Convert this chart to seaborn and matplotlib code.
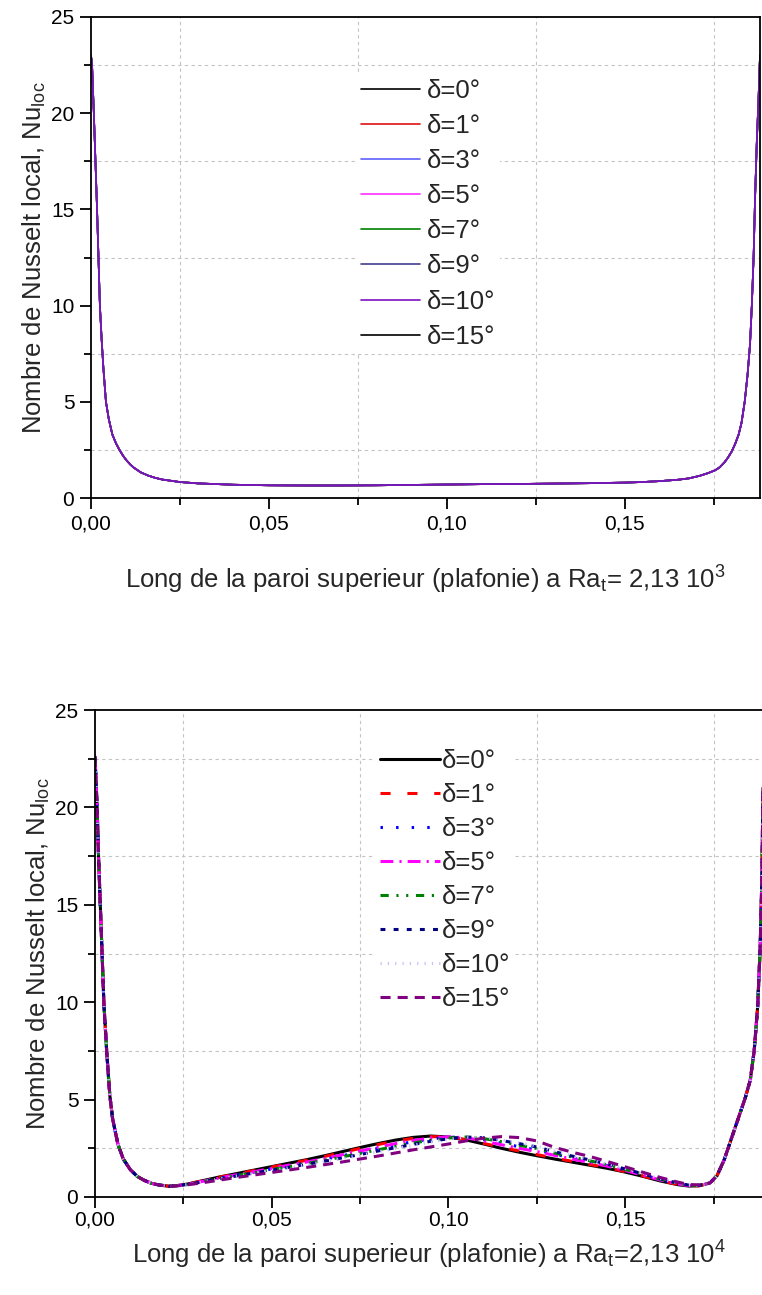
import numpy as np
import pandas as pd
import matplotlib
matplotlib.use("Agg")
import matplotlib.pyplot as plt
from matplotlib.ticker import MultipleLocator, FuncFormatter
import seaborn as sns

# ---------------- data ----------------
deltas = ["δ=0°", "δ=1°", "δ=3°", "δ=5°", "δ=7°", "δ=9°", "δ=10°", "δ=15°"]

# Ra = 2.13e3 : all inclinations coincide
x_top = [0, 0.0003, 0.0008, 0.0017, 0.0025, 0.003, 0.0035, 0.0042, 0.005, 0.006,
         0.007, 0.008, 0.009, 0.010, 0.011, 0.012, 0.014, 0.016, 0.018, 0.020,
         0.025, 0.030, 0.040, 0.050, 0.060, 0.070, 0.080, 0.090, 0.100, 0.110,
         0.120, 0.130, 0.140, 0.150, 0.155, 0.160, 0.165, 0.168, 0.171, 0.1735,
         0.1755, 0.1767, 0.178, 0.179, 0.180, 0.181, 0.182, 0.1828, 0.1837, 0.1845,
         0.1852, 0.1857, 0.1862, 0.1866, 0.1871, 0.1876, 0.188]
nu_top = [23.0, 22.5, 20, 15, 10, 8.2, 6.7, 5.0, 4.1, 3.3,
          2.85, 2.5, 2.2, 1.95, 1.75, 1.58, 1.33, 1.17, 1.05, 0.96,
          0.83, 0.76, 0.69, 0.66, 0.65, 0.65, 0.66, 0.68, 0.70, 0.72,
          0.73, 0.75, 0.77, 0.80, 0.83, 0.88, 0.95, 1.02, 1.15, 1.30,
          1.45, 1.60, 1.85, 2.1, 2.4, 2.8, 3.3, 3.9, 5.0, 6.4,
          8.0, 10, 12.5, 15.5, 18.5, 20.8, 23]

# Ra = 2.13e4
x_bot = [0, 0.0006, 0.001, 0.0017, 0.0025, 0.0033, 0.0042, 0.005, 0.0065, 0.008,
         0.010, 0.012, 0.014, 0.016, 0.018, 0.021,
         0.023, 0.026, 0.030, 0.035, 0.040, 0.045, 0.050, 0.055, 0.060, 0.065,
         0.070, 0.075, 0.080, 0.085, 0.090, 0.095, 0.100, 0.105, 0.110, 0.115,
         0.120, 0.125, 0.130, 0.135, 0.140, 0.145, 0.150, 0.155, 0.160, 0.165,
         0.168, 0.171,
         0.174, 0.176, 0.178, 0.1795, 0.181, 0.1825, 0.184, 0.1854, 0.1865, 0.1875,
         0.1882, 0.1887, 0.189]
left_branch = [22.6, 20, 17.5, 14, 10, 7.5, 5.2, 4.0, 2.7, 1.95,
               1.4, 1.05, 0.85, 0.70, 0.62, 0.55]
right_branch = [0.72, 1.1, 1.9, 2.7, 3.5, 4.3, 5.1, 6.0, 7.5, 9.8,
                12.8, 16.5, 21]
nu_bot_d0 = left_branch + [0.58, 0.66, 0.82, 1.02, 1.20, 1.38, 1.56, 1.74, 1.92, 2.12,
                           2.33, 2.54, 2.74, 2.92, 3.06, 3.13, 3.08, 2.93, 2.72, 2.50,
                           2.30, 2.12, 1.95, 1.79, 1.63, 1.47, 1.28, 1.06, 0.82, 0.63,
                           0.56, 0.58] + right_branch
nu_bot_d1 = left_branch + [0.58, 0.66, 0.81, 1.01, 1.18, 1.36, 1.54, 1.71, 1.89, 2.08,
                           2.29, 2.49, 2.69, 2.87, 3.01, 3.10, 3.08, 2.95, 2.75, 2.55,
                           2.36, 2.18, 2.00, 1.83, 1.67, 1.50, 1.30, 1.08, 0.83, 0.64,
                           0.57, 0.58] + right_branch
nu_bot_d3 = left_branch + [0.58, 0.64, 0.78, 0.96, 1.12, 1.28, 1.44, 1.60, 1.76, 1.94,
                           2.12, 2.30, 2.49, 2.67, 2.84, 2.98, 3.07, 3.07, 2.94, 2.76,
                           2.58, 2.41, 2.20, 2.00, 1.81, 1.61, 1.39, 1.14, 0.89, 0.68,
                           0.59, 0.59] + right_branch
nu_bot_d5 = left_branch + [0.58, 0.65, 0.79, 0.97, 1.14, 1.30, 1.47, 1.64, 1.80, 1.98,
                           2.17, 2.36, 2.55, 2.74, 2.90, 3.03, 3.09, 3.04, 2.88, 2.68,
                           2.50, 2.33, 2.14, 1.95, 1.77, 1.58, 1.36, 1.12, 0.87, 0.67,
                           0.58, 0.59] + right_branch
nu_bot_d7 = left_branch + [0.58, 0.64, 0.77, 0.94, 1.10, 1.25, 1.41, 1.56, 1.72, 1.89,
                           2.06, 2.24, 2.42, 2.60, 2.77, 2.92, 3.03, 3.08, 3.00, 2.84,
                           2.66, 2.49, 2.26, 2.05, 1.86, 1.65, 1.42, 1.17, 0.91, 0.70,
                           0.60, 0.60] + right_branch
nu_bot_d9 = left_branch + [0.58, 0.64, 0.76, 0.92, 1.08, 1.23, 1.38, 1.53, 1.68, 1.84,
                           2.01, 2.18, 2.36, 2.53, 2.70, 2.86, 2.99, 3.08, 3.04, 2.90,
                           2.74, 2.57, 2.33, 2.10, 1.90, 1.68, 1.44, 1.19, 0.93, 0.71,
                           0.61, 0.60] + right_branch
nu_bot_d10 = left_branch + [0.57, 0.63, 0.76, 0.92, 1.07, 1.22, 1.37, 1.51, 1.66, 1.82,
                            1.98, 2.15, 2.32, 2.49, 2.66, 2.82, 2.96, 3.07, 3.06, 2.94,
                            2.78, 2.61, 2.36, 2.12, 1.92, 1.70, 1.46, 1.20, 0.94, 0.72,
                            0.61, 0.60] + right_branch
nu_bot_d15 = left_branch + [0.57, 0.62, 0.72, 0.86, 1.00, 1.13, 1.26, 1.39, 1.52, 1.66,
                            1.80, 1.95, 2.10, 2.26, 2.42, 2.57, 2.72, 2.88, 3.02, 3.10,
                            3.05, 2.88, 2.55, 2.30, 2.08, 1.82, 1.55, 1.27, 1.00, 0.76,
                            0.64, 0.62] + right_branch

# ---------------- style ----------------
sns.set_theme(style="ticks")
plt.rcParams["font.family"] = ["Liberation Sans", "DejaVu Sans"]
plt.rcParams["mathtext.fontset"] = "custom"
plt.rcParams["mathtext.rm"] = "Liberation Sans"
plt.rcParams["mathtext.it"] = "Liberation Sans:italic"

top_colors = ["#000000", "#e01010", "#6060ff", "#ff30ff", "#008000", "#404090", "#7f10c0", "#000000"]
bot_colors = ["#000000", "#ff0000", "#0000ff", "#ff00ff", "#008000", "#000080", "#c8c0ff", "#800080"]
bot_dashes = [(None, None), (3.3, 5.5), (0.8, 4.3), (4.2, 2, 0.7, 2), (2.7, 2.5, 0.7, 2.5, 0.7, 2.5),
              (1.6, 2.7), (0.4, 2.0), (3.3, 2.3)]
bot_series = [nu_bot_d0, nu_bot_d1, nu_bot_d3, nu_bot_d5, nu_bot_d7, nu_bot_d9, nu_bot_d10, nu_bot_d15]

fig = plt.figure(figsize=(7.62, 12.95), dpi=100)
ax1 = fig.add_axes([91 / 762, (1295 - 498) / 1295, 669 / 762, 481 / 1295])
ax2 = fig.add_axes([95 / 762, (1295 - 1197) / 1295, 668 / 762, 487 / 1295])

fmt = FuncFormatter(lambda v, p: f"{v:.2f}".replace(".", ","))


def style_axes(ax, xlabel, xmax, xpad, tpad):
    ax.set_xlim(0, xmax)
    ax.set_ylim(0, 25)
    ax.xaxis.set_major_locator(MultipleLocator(0.05))
    ax.xaxis.set_minor_locator(MultipleLocator(0.025))
    ax.yaxis.set_major_locator(MultipleLocator(5))
    ax.yaxis.set_minor_locator(MultipleLocator(2.5))
    ax.xaxis.set_major_formatter(fmt)
    ax.grid(False, which="major")
    ax.grid(True, which="minor", color="#c4c4c4", linestyle=(0, (3, 3)), linewidth=0.8)
    ax.tick_params(which="major", direction="out", length=8, width=1.3, labelsize=15,
                   top=False, right=False, colors="black", pad=4)
    ax.tick_params(axis="x", which="major", pad=tpad)
    ax.tick_params(which="minor", direction="out", length=5, width=1.3,
                   top=False, right=False, colors="black")
    for s in ax.spines.values():
        s.set_linewidth(1.3)
        s.set_color("black")
    ax.set_xlabel(xlabel, fontsize=18.5, labelpad=xpad)
    ax.set_ylabel(r"Nombre de Nusselt local, Nu$_\mathregular{loc}$", fontsize=18.5, labelpad=2)
    ax.set_facecolor("white")


# top chart: δ=10 drawn last so it shows on top, legend kept in δ order
order_top = [7, 0, 1, 2, 3, 4, 5, 6]
for i in order_top:
    sns.lineplot(x=x_top, y=nu_top, ax=ax1, color=top_colors[i], linewidth=1.2,
                 label=deltas[i], estimator=None, sort=False)
style_axes(ax1, r"Long de la paroi superieur (plafonie) a Ra$_\mathregular{t}$= 2,13 10$^\mathregular{3}$",
           0.188, 22, 4)
h, l = ax1.get_legend_handles_labels()
hm = dict(zip(l, h))
ax1.legend([hm[d] for d in deltas], deltas, loc="upper left", bbox_to_anchor=(0.376, 0.908),
           fontsize=18.5, frameon=True, framealpha=1, facecolor="white", edgecolor="none",
           handlelength=2.33, handletextpad=0.25, labelspacing=0.43, borderpad=0.2,
           fancybox=False)

for i, d in enumerate(deltas):
    sns.lineplot(x=x_bot, y=bot_series[i], ax=ax2, color=bot_colors[i], linewidth=2.2,
                 label=d, estimator=None, sort=False)
    line = ax2.get_lines()[-1]
    if bot_dashes[i][0] is not None:
        line.set_dashes(bot_dashes[i])
style_axes(ax2, r"Long de la paroi superieur (plafonie) a Ra$_\mathregular{t}$=2,13 10$^\mathregular{4}$",
           0.189, 7, 1.5)
ax2.legend(loc="upper left", bbox_to_anchor=(0.40, 0.957),
           fontsize=18.5, frameon=True, framealpha=1, facecolor="white", edgecolor="none",
           handlelength=2.33, handletextpad=0.06, labelspacing=0.39, borderpad=0.2,
           fancybox=False)

fig.savefig("out.png", dpi=100, facecolor="white")
